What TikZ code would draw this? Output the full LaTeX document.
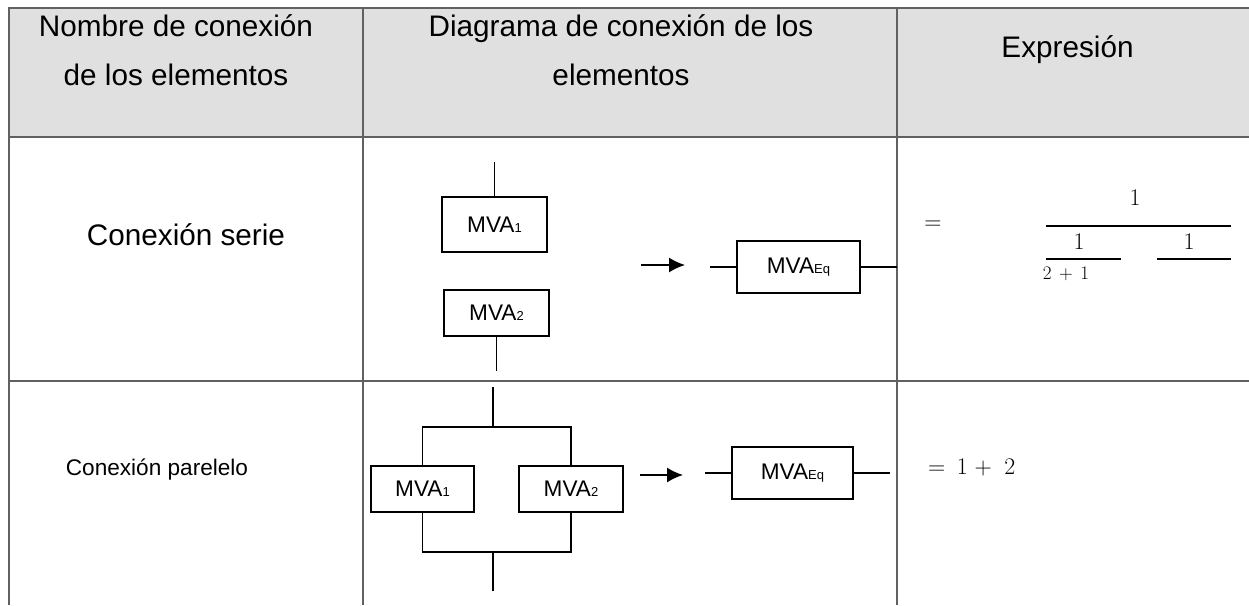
\documentclass[tikz,border=0pt]{standalone}
\usepackage{fontspec}
\setmainfont{Liberation Sans}
\usetikzlibrary{arrows.meta}
\newcommand{\mva}[1]{MVA{\fontsize{13}{13}\selectfont #1}}

\begin{document}
\begin{tikzpicture}[x=1pt, y=-1pt,
  tabline/.style={draw=black!62, line width=1.3pt},
  cable/.style={draw=black, line width=1.5pt},
  mvabox/.style={draw=black, line width=1.5pt, fill=white, inner sep=0pt, minimum height=46pt, font=\fontsize{22.6}{26}\selectfont},
  headtxt/.style={align=center, inner sep=0pt, font=\fontsize{29.7}{49}\selectfont},
  celltxt/.style={inner sep=0pt, font=\fontsize{29.7}{34}\selectfont},
  mathtxt/.style={inner sep=0pt, scale=1.15, font=\fontsize{20}{22}\selectfont},
  flecha/.style={line width=1.6pt, -{Latex[length=16pt,width=15pt]}}]
  \useasboundingbox (0,0) rectangle (1249,605);

  \fill[black!12] (9,8) rectangle (1249,137);
  \draw[tabline] (1249,8) -- (9,8) -- (9,605);
  \draw[tabline] (9,137) -- (1249,137);
  \draw[tabline] (9,381) -- (1249,381);
  \draw[tabline] (363,8) -- (363,605);
  \draw[tabline] (897,8) -- (897,605);

  \node[headtxt] (h1) at (176,50.5) {Nombre de conexión\\de los elementos};
  \node[headtxt] (h2) at (621,50.5) {Diagrama de conexión de los\\elementos};
  \node[headtxt] (h3) at (1067.5,50) {Expresión};
  \node[celltxt] (serie) at (186,235) {Conexión serie};
  \node[inner sep=0pt, font=\fontsize{22.6}{26}\selectfont] (paralelo) at (157,470) {Conexión parelelo};

  \node[mvabox, minimum width=105pt, minimum height=55pt] (s1) at (494.5,224.5) {\mva{1}};
  \node[mvabox, minimum width=105pt] (s2) at (496.5,313) {\mva{2}};
  \node[mvabox, minimum width=123pt, minimum height=52pt] (seq) at (798.5,267) {\mva{Eq}};
  \coordinate (sin) at (494.5,162);
  \coordinate (sout) at (496.5,371);
  \coordinate (seqin) at (710,267);
  \coordinate (seqout) at (897,267);
  \coordinate (sa) at (641,265);
  \coordinate (sb) at (685,265);
  \draw[cable] (sin) -- (s1);
  \draw[cable] (s2) -- (sout);
  \draw[cable] (seqin) -- (seq);
  \draw[cable] (seq) -- (seqout);
  \draw[flecha] (sa) -- (sb);

  \node[mvabox, minimum width=103pt] (p1) at (422.5,489) {\mva{1}};
  \node[mvabox, minimum width=104pt] (p2) at (571,489) {\mva{2}};
  \node[mvabox, minimum width=121pt, minimum height=52pt] (peq) at (792.5,473) {\mva{Eq}};
  \coordinate (pin) at (493,387);
  \coordinate (ptop) at (493,427);
  \coordinate (pbot) at (493,552);
  \coordinate (pout) at (493,591);
  \coordinate (peqin) at (705,473);
  \coordinate (peqout) at (890,473);
  \coordinate (pa) at (640,475);
  \coordinate (pb) at (683,475);
  \draw[cable] (pin) -- (ptop) -| (p1);
  \draw[cable] (ptop) -| (p2);
  \draw[cable] (p1) |- (pbot) -| (p2);
  \draw[cable] (pbot) -- (pout);
  \draw[cable] (peqin) -- (peq);
  \draw[cable] (peq) -- (peqout);
  \draw[flecha] (pa) -- (pb);

  \node[mathtxt] (igual) at (933,225) {$=$};
  \draw[line width=1.5pt] (1046,226) -- (1231,226);
  \draw[line width=1.5pt] (1046,259) -- (1121,259);
  \draw[line width=1.5pt] (1157,259) -- (1231,259);
  \node[mathtxt] (num) at (1135,198) {$1$};
  \node[mathtxt] (den1) at (1079,242) {$1$};
  \node[mathtxt] (den2) at (1189,242) {$1$};
  \node[mathtxt, scale=0.8] (den3) at (1066,274) {$2\,+\,1$};
  \node[mathtxt, anchor=west] (suma) at (928,468) {$=$\hspace{10pt}$1$\hspace{6pt}$+$\hspace{11pt}$2$};
\end{tikzpicture}
\end{document}
